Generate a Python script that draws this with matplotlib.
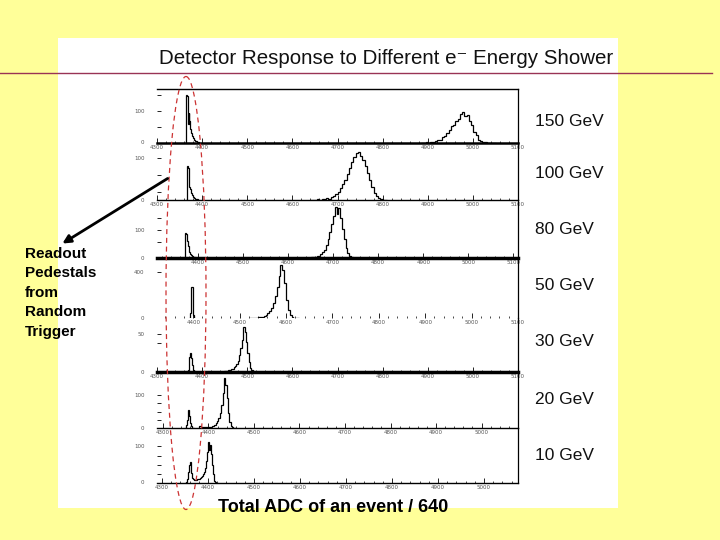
import matplotlib
matplotlib.use("Agg")
import matplotlib.pyplot as plt
from matplotlib.patches import Rectangle, Ellipse, FancyArrowPatch
import numpy as np

# ---------------- data ----------------
energies = ["150 GeV", "100 GeV", "80 GeV", "50 GeV", "30 GeV", "20 GeV", "10 GeV"]

# x-range of each panel (ADC / 640)
xlims = [(4300, 5100), (4300, 5100), (4310, 5110), (4322, 5100),
         (4300, 5100), (4287, 5080), (4289, 5074)]
ymax = [170, 170, 145, 520, 142, 170, 150]

# y tick positions and labels per panel
yticks = [[50, 100, 150], [25, 75, 125], [40, 70, 100], [400],
          [75, 100], [25, 50, 75, 100], [25, 50, 75, 100]]
ylabels = [["", "100", ""], ["", "", "100"], ["", "100", ""], ["400"],
           ["", "50"], ["", "", "", "100"], ["", "", "", "100"]]

# pedestal histograms: start, bin width, counts
ped_start = [4362, 4364, 4370, 4392, 4366, 4348, 4350]
ped_width = [2, 2, 2, 2, 2, 2, 2]
ped_counts = [
    [0, 150, 148, 60, 95, 70, 45, 30, 22, 15, 10, 7, 5, 3, 2, 1, 1, 0],
    [0, 100, 96, 55, 40, 32, 22, 15, 10, 6, 4, 3, 2, 1, 0],
    [0, 62, 60, 42, 30, 21, 15, 10, 7, 4, 3, 2, 1, 0],
    [0, 40, 270, 265, 30, 0],
    [0, 5, 18, 40, 50, 38, 18, 6, 2, 0],
    [0, 8, 25, 50, 55, 35, 15, 5, 1, 0],
    [0, 3, 10, 30, 50, 57, 45, 28, 15, 10, 8, 8, 9, 10, 11, 12, 14, 16, 18,
     20, 24, 30, 40, 60, 85, 112, 90, 105, 80, 50, 25, 12, 5, 2, 1, 0],
]

# electron-shower signal histograms: start, bin width, counts
sig_start = [4886, 4640, 4640, 4520, 4440, 4380, None]
sig_width = [5, 5, 4, 4, 3, 3, None]
sig_counts = [
    [1, 0, 2, 1, 3, 4, 5, 9, 11, 18, 22, 33, 40, 55, 58, 70, 76, 90, 98, 85,
     88, 70, 58, 35, 24, 10, 7, 3, 2, 1, 0, 1, 0],
    [1, 0, 1, 2, 1, 2, 3, 5, 4, 8, 12, 18, 25, 35, 48, 60, 78, 95, 112, 128,
     140, 143, 132, 120, 100, 82, 60, 40, 22, 12, 6, 3, 1, 0],
    [0, 1, 1, 2, 2, 3, 4, 5, 9, 14, 21, 32, 47, 64, 85, 106, 127, 110, 124,
     100, 72, 47, 25, 13, 6, 3, 1, 0],
    [0, 1, 1, 2, 3, 5, 8, 12, 18, 28, 42, 62, 90, 130, 190, 270, 360, 460,
     420, 300, 160, 70, 25, 8, 3, 1, 0],
    [0, 1, 1, 2, 2, 3, 4, 5, 7, 9, 12, 16, 22, 30, 45, 62, 85, 118, 105, 80,
     50, 25, 10, 4, 2, 1, 0],
    [6, 4, 3, 2, 2, 2, 2, 3, 4, 5, 7, 10, 14, 20, 30, 45, 70, 105, 152, 130,
     90, 45, 18, 6, 2, 1, 0],
    None,
]

# ---------------- layout (pixel geometry of the slide) ----------------
W, H = 720, 540
baselines = [143, 200, 258, 318, 372, 428, 483]
top_first = 89
ax_left, ax_right = 157, 518
base_lw = [1.8, 1.0, 2.5, 0.0, 2.5, 1.0, 1.0]
label_y = [122, 173, 230, 286, 342, 400, 456]

fig = plt.figure(figsize=(7.2, 5.4), dpi=100)
fig.patch.set_facecolor("#FFFF99")

# background overlay axes in pixel coordinates
bg = fig.add_axes([0, 0, 1, 1], zorder=0)
bg.set_xlim(0, W)
bg.set_ylim(H, 0)
bg.axis("off")
bg.add_patch(Rectangle((58, 38), 560, 470, facecolor="white", edgecolor="none"))

fam = ["Liberation Sans", "DejaVu Sans"]

for i in range(7):
    top = top_first if i == 0 else baselines[i - 1]
    bot = baselines[i]
    ax = fig.add_axes([ax_left / W, 1 - bot / H, (ax_right - ax_left) / W,
                       (bot - top) / H], zorder=2)
    ax.patch.set_alpha(0)
    x0, x1 = xlims[i]
    ax.set_xlim(x0, x1)
    ax.set_ylim(0, ymax[i])

    pc = ped_counts[i]
    pe = ped_start[i] + ped_width[i] * np.arange(len(pc) + 1)
    ax.stairs(pc, pe, color="black", lw=0.9)
    if sig_counts[i] is not None:
        sc = sig_counts[i]
        se = sig_start[i] + sig_width[i] * np.arange(len(sc) + 1)
        ax.stairs(sc, se, color="black", lw=0.9)

    for s in ["left", "top"]:
        ax.spines[s].set_visible(False)
    if i == 0:
        ax.spines["top"].set_visible(True)
        ax.spines["top"].set_linewidth(1.0)
    ax.spines["right"].set_linewidth(0.9)
    if base_lw[i] > 0:
        ax.spines["bottom"].set_linewidth(base_lw[i])
    else:
        ax.spines["bottom"].set_visible(False)

    major = np.arange(np.ceil(x0 / 100) * 100, x1 + 1, 100)
    minor = np.arange(np.ceil(x0 / 20) * 20, x1 + 1, 20)
    ax.set_xticks(major)
    ax.set_xticklabels([str(int(v)) for v in major])
    ax.set_xticks(minor, minor=True)
    ax.tick_params(axis="x", which="major", direction="in", length=3.5,
                   width=0.6, labelsize=4, pad=1.2, labelcolor="#555555")
    ax.tick_params(axis="x", which="minor", direction="in", length=1.6,
                   width=0.5)

    ax.set_yticks(yticks[i])
    ax.set_yticklabels(ylabels[i])
    ax.tick_params(axis="y", direction="in", length=3, width=0.6,
                   labelsize=4, pad=9, labelcolor="#555555")
    ax.text(-0.035, 0.0, "0", transform=ax.transAxes, fontsize=4,
            color="#555555", ha="right", va="center")

    bg.text(535, label_y[i], energies[i], fontsize=12.5, family=fam,
            ha="left", va="center", color="#111111")

# overlay axes for annotations
ov = fig.add_axes([0, 0, 1, 1], zorder=5)
ov.set_xlim(0, W)
ov.set_ylim(H, 0)
ov.axis("off")
ov.patch.set_alpha(0)

ov.plot([0, 712], [73, 73], color="#993355", lw=1.0)
ov.text(386, 59, "Detector Response to Different e\u207b Energy Shower",
        fontsize=14.8, family=fam, ha="center", va="center", color="#111111")
ov.add_patch(Ellipse((186, 293), 40, 433, fill=False, edgecolor="#cc3333",
                     ls=(0, (4, 3)), lw=0.9))
ov.add_patch(FancyArrowPatch((170, 177), (60, 245), arrowstyle="-|>",
                             mutation_scale=12, color="black", lw=2.0))
for k, line in enumerate(["Readout", "Pedestals", "from", "Random", "Trigger"]):
    ov.text(25, 254 + 19.4 * k, line, fontsize=11, fontweight="bold",
            family=fam, ha="left", va="center", color="black")
ov.text(333, 508, "Total ADC of an event / 640", fontsize=13, fontweight="bold",
        family=fam, ha="center", va="center", color="black")

fig.savefig("out.png", dpi=100, facecolor=fig.get_facecolor())
